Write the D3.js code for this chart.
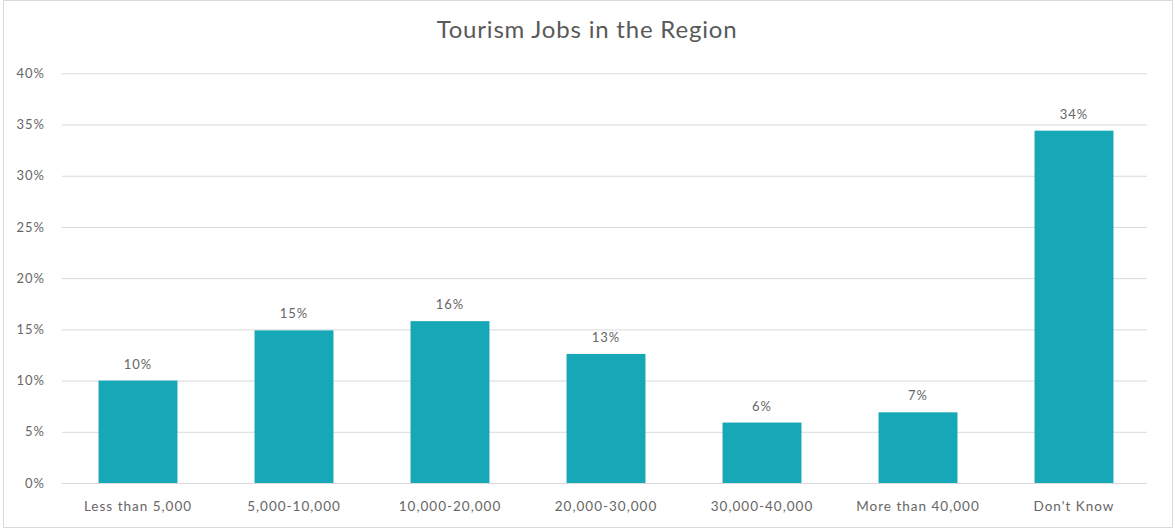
<!DOCTYPE html>
<html>
<head>
<meta charset="utf-8">
<script src="https://cdn.jsdelivr.net/npm/d3@7"></script>
<style>
  html, body { margin: 0; padding: 0; background: #fff; }
  svg { display: block; }
  text { font-family: Lato, "Open Sans", sans-serif; }
</style>
</head>
<body>
<svg id="chart" width="1175" height="531"></svg>
<script>
// Survey answers: estimated number of tourism jobs in the region
const categories = ["Less than 5,000", "5,000-10,000", "10,000-20,000", "20,000-30,000",
                    "30,000-40,000", "More than 40,000", "Don't Know"];
const shares = [0.100, 0.149, 0.158, 0.126, 0.059, 0.069, 0.344];
const yTicks = [0, 0.05, 0.10, 0.15, 0.20, 0.25, 0.30, 0.35, 0.40];
const chartTitle = "Tourism Jobs in the Region";

const W = 1175, H = 531;
const svg = d3.select("#chart");

// outer frame
svg.append("rect")
  .attr("x", 3.5).attr("y", 0.5)
  .attr("width", W - 6).attr("height", H - 4)
  .attr("fill", "#fff").attr("stroke", "#d9d9d9");

const x = d3.scaleBand().domain(categories).range([60, 1152]).paddingInner(0.494).paddingOuter(0.247);
const y = d3.scaleLinear().domain([0, 0.40]).range([483, 73.3]);

// horizontal gridlines with percentage labels
const yAxis = d3.axisLeft(y).tickValues(yTicks).tickFormat(d3.format(".0%"))
  .tickSize(-(1147 - 62)).tickPadding(17);
const gy = svg.append("g").attr("transform", "translate(62,0)").call(yAxis);
gy.select(".domain").remove();
gy.selectAll(".tick line").attr("stroke", "#d9d9d9").attr("stroke-width", 1);
gy.selectAll(".tick text")
  .attr("fill", "#666").attr("font-size", 13).attr("letter-spacing", 1);

// category labels along the baseline
const xAxis = d3.axisBottom(x).tickSize(0).tickPadding(18);
const gx = svg.append("g").attr("transform", `translate(0,${y(0)})`).call(xAxis);
gx.select(".domain").remove();
gx.selectAll(".tick text")
  .attr("fill", "#666").attr("font-size", 13.5).attr("letter-spacing", 1);

// bars
svg.append("g").selectAll("rect")
  .data(shares)
  .join("rect")
  .attr("x", (d, i) => x(categories[i]))
  .attr("y", d => y(d))
  .attr("width", x.bandwidth())
  .attr("height", d => y(0) - y(d))
  .attr("fill", "#17a8b8");

// value labels
svg.append("g").selectAll("text")
  .data(shares)
  .join("text")
  .attr("x", (d, i) => x(categories[i]) + x.bandwidth() / 2)
  .attr("y", d => y(d) - 12)
  .attr("text-anchor", "middle")
  .attr("fill", "#666")
  .attr("font-size", 13)
  .attr("letter-spacing", 1)
  .text(d => d3.format(".0%")(d));

// title
svg.append("text")
  .attr("x", 587).attr("y", 38)
  .attr("text-anchor", "middle")
  .attr("fill", "#595959")
  .attr("font-size", 24)
  .attr("letter-spacing", 0.8)
  .text(chartTitle);
</script>
</body>
</html>
